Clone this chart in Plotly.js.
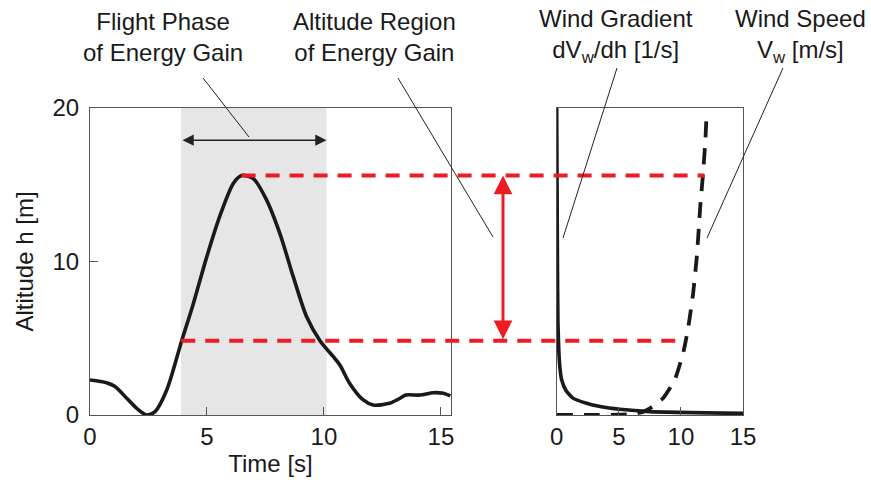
<!DOCTYPE html>
<html>
<head>
<meta charset="utf-8">
<script src="https://cdn.plot.ly/plotly-3.0.1.min.js"></script>
<style>html,body{margin:0;padding:0;background:#fff;}#chart{width:871px;height:480px;}</style>
</head>
<body>
<div id="chart"></div>
<script>
// ---- data ----
var time = [0, 0.71, 1.07, 1.57, 2.0, 2.42, 2.78, 3.28, 3.92, 4.42, 4.99, 5.56, 6.13, 6.48, 6.98, 7.55, 8.12, 8.69, 9.26, 9.83, 10.4, 10.68, 11.1, 11.68, 12.1, 12.8, 13.25, 13.5, 14.1, 14.67, 15.1, 15.4];
var altitude = [2.28, 2.1, 1.85, 1.09, 0.43, 0, 0.22, 1.63, 4.84, 7.27, 10.3, 13.0, 15.1, 15.6, 15.4, 14.0, 11.8, 9.0, 6.4, 4.84, 3.8, 3.26, 2.06, 0.98, 0.65, 0.76, 1.09, 1.3, 1.3, 1.45, 1.41, 1.24];

var gradAltitude = [20, 15, 10, 6, 4, 3, 2.28, 1.6, 1.1, 0.76, 0.55, 0.37, 0.22, 0.11];
var windGradient = [0, 0.03, 0.06, 0.1, 0.18, 0.27, 0.4, 0.75, 1.31, 2.4, 3.5, 5.08, 7.5, 15];

var windAltitude = [0, 0, 0.02, 0.08, 0.22, 0.43, 1.09, 2.28, 4.0, 5.6, 7.9, 10.5, 13.6, 15.7, 17.9, 19.65];
var windSpeed = [0, 3, 5, 6.2, 7, 7.5, 8.56, 9.5, 10.17, 10.57, 10.98, 11.3, 11.56, 11.78, 11.97, 12.07];

var phaseStart = 3.89, phaseEnd = 10.11;   // flight phase of energy gain [s]
var hTop = 15.6, hBottom = 4.84;           // altitude region of energy gain [m]
var tPeak = 6.48, tLow = 3.9;              // where red lines start [s]
var vTop = 11.9, vBottom = 10.3;           // where red lines end on wind axis
var phaseArrowH = 17.9;

var xTicks = [0, 5, 10, 15];
var yTicks = [0, 10, 20];

// ---- geometry ----
var W = 871, H = 480;
var mL = 90, mR = 128, mT = 108, mB = 65;
var plotW = W - mL - mR, plotH = H - mT - mB;
var leftRange = [0, 15.43], rightRange = [0, 15], yRange = [0, 20];
var d1 = (451 - mL) / plotW, d2 = (556.7 - mL) / plotW;

function lx(t) { return d1 * (t - leftRange[0]) / (leftRange[1] - leftRange[0]); }
function rx(v) { return d2 + (1 - d2) * (v - rightRange[0]) / (rightRange[1] - rightRange[0]); }
function py(h) { return (h - yRange[0]) / (yRange[1] - yRange[0]); }
function PX(p) { return (p - mL) / plotW; }
function PY(p) { return (H - mB - p) / plotH; }

var FONT = 'Liberation Sans, Arial, sans-serif';
var red = '#ed1c24';
var ink = '#1a1a1a';

var traces = [
  {x: time, y: altitude, xaxis: 'x', yaxis: 'y', mode: 'lines', line: {color: ink, width: 3.6, shape: 'spline', smoothing: 0.8}, cliponaxis: false, hoverinfo: 'skip'},
  {x: windGradient, y: gradAltitude, xaxis: 'x2', yaxis: 'y2', mode: 'lines', line: {color: ink, width: 3.6, shape: 'spline', smoothing: 0.5}, cliponaxis: false, hoverinfo: 'skip'},
  {x: windSpeed, y: windAltitude, xaxis: 'x2', yaxis: 'y2', mode: 'lines', line: {color: ink, width: 3.8, dash: '16px,11px', shape: 'spline', smoothing: 0.5}, cliponaxis: false, hoverinfo: 'skip'}
];

function leader(x0, y0, x1, y1) {
  return {type: 'line', xref: 'paper', yref: 'paper', x0: PX(x0), y0: PY(y0), x1: PX(x1), y1: PY(y1), line: {color: '#222', width: 1}, layer: 'above'};
}

var shapes = [
  {type: 'rect', xref: 'x', yref: 'y', x0: phaseStart, x1: phaseEnd, y0: yRange[0], y1: yRange[1], fillcolor: '#e6e6e6', line: {width: 0}, layer: 'below'},
  {type: 'line', xref: 'paper', yref: 'paper', x0: lx(tPeak), x1: rx(vTop), y0: py(hTop), y1: py(hTop), line: {color: red, width: 4, dash: '14px,10px'}, layer: 'above'},
  {type: 'line', xref: 'paper', yref: 'paper', x0: lx(tLow), x1: rx(vBottom), y0: py(hBottom), y1: py(hBottom), line: {color: red, width: 4, dash: '14px,10px'}, layer: 'above'},
  leader(203, 78, 249, 137),
  leader(398, 78, 493, 237),
  leader(617, 68, 563, 238),
  leader(783, 68, 707, 238)
];

var arrowX = PX(503);
var annotations = [
  {xref: 'x', yref: 'y', x: phaseEnd, y: phaseArrowH, axref: 'x', ayref: 'y', ax: phaseStart, ay: phaseArrowH, text: '', showarrow: true, arrowhead: 2, arrowside: 'end+start', arrowsize: 1.5, arrowwidth: 1.5, arrowcolor: '#222', standoff: 0, startstandoff: 0},
  {xref: 'paper', yref: 'y', x: arrowX, y: hTop, axref: 'pixel', ayref: 'y', ax: 0, ay: hBottom, text: '', showarrow: true, arrowhead: 2, arrowside: 'end+start', arrowsize: 1.25, arrowwidth: 3, arrowcolor: red, standoff: 0, startstandoff: 0},
  {xref: 'paper', yref: 'paper', x: PX(163), y: PY(37), text: 'Flight Phase<br>of Energy Gain', showarrow: false, xanchor: 'center', yanchor: 'middle', font: {family: FONT, size: 24, color: ink}},
  {xref: 'paper', yref: 'paper', x: PX(374), y: PY(37), text: 'Altitude Region<br>of Energy Gain', showarrow: false, xanchor: 'center', yanchor: 'middle', font: {family: FONT, size: 24, color: ink}},
  {xref: 'paper', yref: 'paper', x: PX(616), y: PY(36), text: 'Wind Gradient<br>dV<sub>w</sub>/dh [1/s]', showarrow: false, xanchor: 'center', yanchor: 'middle', font: {family: FONT, size: 24, color: ink}},
  {xref: 'paper', yref: 'paper', x: PX(800), y: PY(36), text: 'Wind Speed<br>V<sub>w</sub> [m/s]', showarrow: false, xanchor: 'center', yanchor: 'middle', font: {family: FONT, size: 24, color: ink}}
];

var axisBase = {showline: true, mirror: true, linecolor: '#555', linewidth: 1, ticks: 'inside', ticklen: 8, tickcolor: '#555', tickwidth: 1, showgrid: false, zeroline: false, tickfont: {family: FONT, size: 24, color: ink}, fixedrange: true};

var layout = {
  width: W, height: H,
  margin: {l: mL, r: mR, t: mT, b: mB},
  paper_bgcolor: '#fff', plot_bgcolor: 'rgba(0,0,0,0)',
  showlegend: false,
  xaxis: Object.assign({}, axisBase, {domain: [0, d1], range: leftRange, tickvals: xTicks, ticktext: xTicks.map(String), anchor: 'y', title: {text: 'Time [s]', font: {family: FONT, size: 24, color: ink}, standoff: 4}}),
  yaxis: Object.assign({}, axisBase, {domain: [0, 1], range: yRange, tickvals: yTicks, ticktext: yTicks.map(String), anchor: 'x', ticklabelstandoff: 5, title: {text: 'Altitude h [m]', font: {family: FONT, size: 24, color: ink}, standoff: 12}}),
  xaxis2: Object.assign({}, axisBase, {domain: [d2, 1], range: rightRange, tickvals: xTicks, ticktext: xTicks.map(String), anchor: 'y2'}),
  yaxis2: Object.assign({}, axisBase, {domain: [0, 1], range: yRange, anchor: 'x2', ticks: '', showticklabels: false}),
  shapes: shapes,
  annotations: annotations
};

Plotly.newPlot('chart', traces, layout, {displayModeBar: false, staticPlot: true});
</script>
</body>
</html>
